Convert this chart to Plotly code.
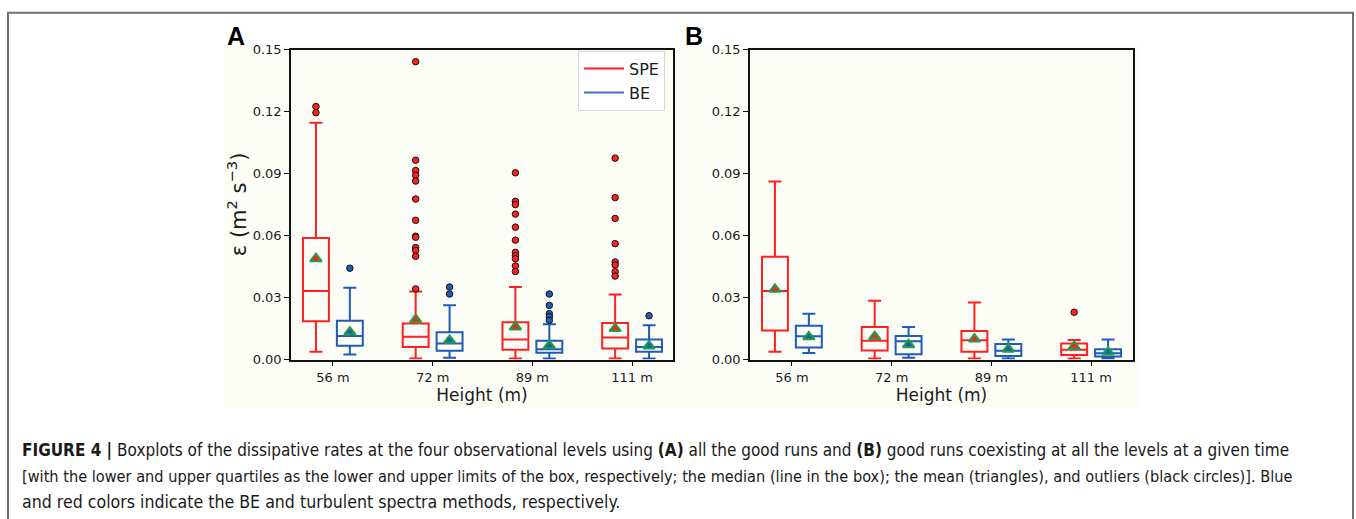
import plotly.graph_objects as go

# ---------------- data ----------------
heights = ["56 m", "72 m", "89 m", "111 m"]

# Panel A (all good runs)
A_spe_q1 = [0.0185, 0.0060, 0.0047, 0.0053]
A_spe_med = [0.0332, 0.0110, 0.0097, 0.0107]
A_spe_q3 = [0.0588, 0.0174, 0.0180, 0.0177]
A_spe_lo = [0.0038, 0.0005, 0.0005, 0.0005]
A_spe_hi = [0.1147, 0.0329, 0.0351, 0.0315]
A_spe_mean = [0.0488, 0.0193, 0.0158, 0.0150]
A_spe_out = [
    [0.1225, 0.1195],
    [0.1442, 0.0965, 0.0915, 0.0892, 0.0864, 0.0777, 0.0674, 0.0597, 0.0592,
     0.0542, 0.0528, 0.0500, 0.0342],
    [0.0904, 0.0766, 0.0750, 0.0704, 0.0641, 0.0578, 0.0519, 0.0503, 0.0488,
     0.0453, 0.0426],
    [0.0975, 0.0784, 0.0683, 0.0561, 0.0472, 0.0458, 0.0425, 0.0404],
]

A_be_q1 = [0.0067, 0.0042, 0.0033, 0.0038]
A_be_med = [0.0114, 0.0077, 0.0050, 0.0060]
A_be_q3 = [0.0188, 0.0132, 0.0091, 0.0097]
A_be_lo = [0.0024, 0.0008, 0.0005, 0.0005]
A_be_hi = [0.0348, 0.0263, 0.0171, 0.0166]
A_be_mean = [0.0133, 0.0093, 0.0067, 0.0066]
A_be_out = [
    [0.0442],
    [0.0351, 0.0317],
    [0.0317, 0.0262, 0.0222, 0.0207, 0.0190],
    [0.0212],
]

# Panel B (good runs coexisting at all levels)
B_spe_q1 = [0.0141, 0.0044, 0.0038, 0.0022]
B_spe_med = [0.0332, 0.0091, 0.0093, 0.0047]
B_spe_q3 = [0.0497, 0.0157, 0.0138, 0.0077]
B_spe_lo = [0.0038, 0.0005, 0.0005, 0.0005]
B_spe_hi = [0.0862, 0.0285, 0.0276, 0.0094]
B_spe_mean = [0.0340, 0.0111, 0.0099, 0.0063]
B_spe_out = [[], [], [], [0.0229]]

B_be_q1 = [0.0058, 0.0025, 0.0017, 0.0014]
B_be_med = [0.0113, 0.0088, 0.0042, 0.0030]
B_be_q3 = [0.0163, 0.0114, 0.0075, 0.0050]
B_be_lo = [0.0031, 0.0008, 0.0005, 0.0005]
B_be_hi = [0.0221, 0.0158, 0.0097, 0.0097]
B_be_mean = [0.0110, 0.0072, 0.0050, 0.0036]
B_be_out = [[], [], [], []]

y_ticks = [0.00, 0.03, 0.06, 0.09, 0.12, 0.15]
y_ticktext = ["0.00", "0.03", "0.06", "0.09", "0.12", "0.15"]

y_title = "ε (m<sup>2</sup> s<sup>−3</sup>)"
x_title = "Height (m)"

caption = [
    "<b>FIGURE 4 |</b> Boxplots of the dissipative rates at the four observational levels using <b>(A)</b> all the good runs and <b>(B)</b> good runs coexisting at all the levels at a given time",
    "[with the lower and upper quartiles as the lower and upper limits of the box, respectively; the median (line in the box); the mean (triangles), and outliers (black circles)]. Blue",
    "and red colors indicate the BE and turbulent spectra methods, respectively.",
]

# ---------------- style ----------------
RED = "#ff1f1f"
BLUE = "#1f5bb8"
GREEN = "#1f9e45"
OFF = 0.17
BOXW = 0.26
TICKFONT = dict(family="DejaVu Sans", size=13, color="#1a1a1a")
TITLEFONT = dict(family="DejaVu Sans", size=17, color="#1a1a1a")
CAPFONT = "Liberation Sans Narrow, DejaVu Sans Condensed, Liberation Sans"
CAP_SIZES = [17, 16.2, 17.6]

fig = go.Figure()


def add_panel(xa, ya, series):
    for name, color, off, q1, med, q3, lo, hi, mean, outs in series:
        xs = [i + off for i in range(len(heights))]
        fig.add_trace(go.Box(
            x=xs, q1=q1, median=med, q3=q3, lowerfence=lo, upperfence=hi,
            width=BOXW, whiskerwidth=0.5, boxpoints=False,
            line=dict(color=color, width=2), fillcolor="rgba(0,0,0,0)",
            showlegend=False, hoverinfo="skip", xaxis=xa, yaxis=ya,
        ))
        ox, oy = [], []
        for i, vals in enumerate(outs):
            for v in vals:
                ox.append(i + off)
                oy.append(v)
        if ox:
            fig.add_trace(go.Scatter(
                x=ox, y=oy, mode="markers", showlegend=False, hoverinfo="skip",
                marker=dict(symbol="circle", size=6.5, color=color,
                            line=dict(color="#111", width=1)),
                xaxis=xa, yaxis=ya,
            ))
        fig.add_trace(go.Scatter(
            x=xs, y=mean, mode="markers", showlegend=False, hoverinfo="skip",
            marker=dict(symbol="triangle-up", size=10, color=color,
                        line=dict(color=GREEN, width=2)),
            xaxis=xa, yaxis=ya,
        ))


add_panel("x", "y", [
    ("SPE", RED, -OFF, A_spe_q1, A_spe_med, A_spe_q3, A_spe_lo, A_spe_hi, A_spe_mean, A_spe_out),
    ("BE", BLUE, OFF, A_be_q1, A_be_med, A_be_q3, A_be_lo, A_be_hi, A_be_mean, A_be_out),
])
add_panel("x2", "y2", [
    ("SPE", RED, -OFF, B_spe_q1, B_spe_med, B_spe_q3, B_spe_lo, B_spe_hi, B_spe_mean, B_spe_out),
    ("BE", BLUE, OFF, B_be_q1, B_be_med, B_be_q3, B_be_lo, B_be_hi, B_be_mean, B_be_out),
])

# legend entries (lines)
for name, color in [("SPE", RED), ("BE", "#3b73c8")]:
    fig.add_trace(go.Scatter(x=[None], y=[None], mode="lines", name=name,
                             line=dict(color=color, width=2), xaxis="x", yaxis="y"))

W, H = 1356, 519
px = lambda v: v / W
py = lambda v: 1 - v / H

axis_common = dict(
    showline=True, linecolor="#111", linewidth=1.5, mirror=True,
    ticks="outside", ticklen=5, tickwidth=1.3, tickcolor="#111",
    showgrid=False, zeroline=False, tickfont=TICKFONT,
)

fig.update_layout(
    width=W, height=H, margin=dict(l=0, r=0, t=0, b=0),
    paper_bgcolor="white", plot_bgcolor="#fdfdf8",
    showlegend=True,
    legend=dict(
        x=px(665), y=py(45), xanchor="right", yanchor="top",
        bgcolor="white", bordercolor="#d8d8d8", borderwidth=1,
        font=dict(family="DejaVu Sans", size=16, color="#1a1a1a"),
        itemwidth=40,
    ),
    xaxis=dict(domain=[px(291), px(673)], range=[-0.42, 3.41], anchor="y",
               tickvals=list(range(len(heights))), ticktext=heights,
               title=dict(text=x_title, font=TITLEFONT, standoff=4),
               **axis_common),
    yaxis=dict(domain=[1 - 363 / H, 1 - 44 / H], range=[0, 0.15], anchor="x",
               tickvals=y_ticks, ticktext=y_ticktext, **axis_common),
    xaxis2=dict(domain=[px(750), px(1133)], range=[-0.42, 3.42], anchor="y2",
                tickvals=list(range(len(heights))), ticktext=heights,
                title=dict(text=x_title, font=TITLEFONT, standoff=4),
                **axis_common),
    yaxis2=dict(domain=[1 - 363 / H, 1 - 44 / H], range=[0, 0.15], anchor="x2",
                tickvals=y_ticks, ticktext=y_ticktext, **axis_common),
)

# y-axis title (rotated)
fig.add_annotation(text=y_title, textangle=-90, x=px(237), y=py(203),
                   xref="paper", yref="paper", showarrow=False,
                   xanchor="center", yanchor="middle",
                   font=dict(family="DejaVu Sans", size=21, color="#1a1a1a"))

# background of the embedded figure and outer frame
fig.add_shape(type="rect", xref="paper", yref="paper",
              x0=px(224), x1=px(1140), y0=py(412), y1=py(38),
              fillcolor="#fdfdf8", line=dict(width=0), layer="below")
fig.add_shape(type="rect", xref="paper", yref="paper",
              x0=px(8), x1=px(1353), y0=-0.05, y1=py(6),
              fillcolor="rgba(0,0,0,0)", line=dict(color="#707070", width=2))

# panel labels
for lab, xpos in [("A", 236), ("B", 694)]:
    fig.add_annotation(text="<b>%s</b>" % lab, x=px(xpos), y=py(30), xref="paper", yref="paper",
                       showarrow=False, xanchor="center", yanchor="middle",
                       font=dict(family="Liberation Sans", size=25, color="#000"))

for k, line in enumerate(caption):
    fig.add_annotation(text=line, x=px(20), y=py(456 + 27 * k), xref="paper", yref="paper",
                       showarrow=False, xanchor="left", yanchor="middle",
                       font=dict(family=CAPFONT, size=CAP_SIZES[k], color="#1a1a1a"))

fig.write_html("out.html")
